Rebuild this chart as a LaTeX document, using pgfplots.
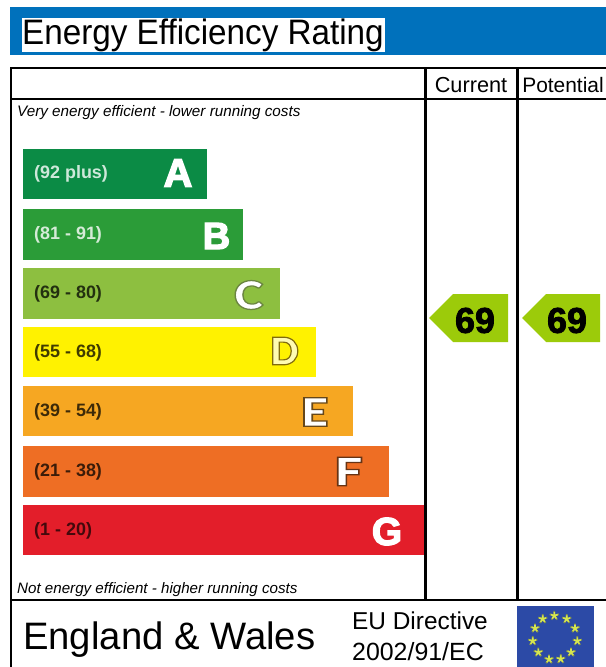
\documentclass[border=0pt]{standalone}
\usepackage{fontspec}
\setmainfont{Liberation Sans}
\newfontface\heavyfont{Liberation Sans Bold}[FakeBold=3.5]
\newfontface\ringfont{Lato Black}[FakeBold=3.2]
\newfontface\numfont{Liberation Sans Bold}[FakeBold=2.2]
\usepackage{pgfplots}
\pgfplotsset{compat=1.18}
\definecolor{hdr}{HTML}{0071BC}
\definecolor{cA}{HTML}{0B8B45}
\definecolor{cB}{HTML}{2B9C38}
\definecolor{cC}{HTML}{8DBF40}
\definecolor{cD}{HTML}{FFF200}
\definecolor{cE}{HTML}{F6A722}
\definecolor{cF}{HTML}{EE6E24}
\definecolor{cG}{HTML}{E31E2A}
\definecolor{cArrow}{HTML}{9CCB0A}
\definecolor{flag}{HTML}{2C4AA6}
\definecolor{star}{HTML}{D6E650}
% white letter whose emboldening stroke is dark: #2 is the PDF stroke colour
\newcommand{\ringed}[3][white]{\textcolor{#1}{\special{pdf:code #2 RG}#3}}
\begin{document}
\begin{tikzpicture}[x=1bp,y=1bp]
\begin{axis}[
  at={(0,0)},anchor=south west,
  width=606bp,height=667bp,scale only axis,
  xmin=0,xmax=606,ymin=0,ymax=667,y dir=reverse,
  axis lines=none,clip=true,
  every axis plot/.append style={line join=miter},
]
% canvas
\addplot[fill=white,draw=none] coordinates {(0,0)(606,0)(606,667)(0,667)} -- cycle;
% header
\addplot[fill=hdr,draw=none] coordinates {(10,7)(606,7)(606,55)(10,55)} -- cycle;
\addplot[fill=white,draw=none] coordinates {(22,18)(385,18)(385,52)(22,52)} -- cycle;
% bars
\addplot[fill=cA,draw=none] coordinates {(23,149)(207,149)(207,199)(23,199)} -- cycle;
\addplot[fill=cB,draw=none] coordinates {(23,209)(243,209)(243,260)(23,260)} -- cycle;
\addplot[fill=cC,draw=none] coordinates {(23,268)(280,268)(280,319)(23,319)} -- cycle;
\addplot[fill=cD,draw=none] coordinates {(23,327)(316,327)(316,377)(23,377)} -- cycle;
\addplot[fill=cE,draw=none] coordinates {(23,386)(353,386)(353,436)(23,436)} -- cycle;
\addplot[fill=cF,draw=none] coordinates {(23,446)(389,446)(389,497)(23,497)} -- cycle;
\addplot[fill=cG,draw=none] coordinates {(23,505)(424,505)(424,555)(23,555)} -- cycle;
% arrows
\addplot[fill=cArrow,draw=none] coordinates {(429,318)(453,294)(508,294)(508,342)(453,342)} -- cycle;
\addplot[fill=cArrow,draw=none] coordinates {(522,318)(546,294)(600,294)(600,342)(546,342)} -- cycle;
% frame
\addplot[black,line width=2.4bp] coordinates {(11,667)(11,68)(606,68)};
\addplot[black,line width=2.4bp] coordinates {(11,99)(606,99)};
\addplot[black,line width=2.4bp] coordinates {(425.5,68)(425.5,600)};
\addplot[black,line width=2.4bp] coordinates {(517.5,68)(517.5,600)};
\addplot[black,line width=2.4bp] coordinates {(11,600)(606,600)};
% flag
\addplot[fill=flag,draw=none] coordinates {(517,606)(594,606)(594,667)(517,667)} -- cycle;
\addplot[only marks,mark=star,mark size=4.8bp,mark options={solid,fill=star,draw=star!70!black!80!flag,line width=1.8bp},draw=none] coordinates {
(554.3,615.7)(566.7,619)(575,628.3)(577.3,641)(571,652.3)(560.7,659)(549,659.3)(538.3,652.3)(532.7,641)(535,628.3)(542.7,619)};
\addplot[only marks,mark=star,mark size=3.6bp,mark options={solid,draw=star,fill=star,line width=1.6bp},draw=none] coordinates {
(554.3,615.7)(566.7,619)(575,628.3)(577.3,641)(571,652.3)(560.7,659)(549,659.3)(538.3,652.3)(532.7,641)(535,628.3)(542.7,619)};
% text
\node[anchor=west,inner sep=0,xscale=0.94,font=\fontsize{35.5}{35.5}\selectfont] at (axis cs:22,35.5) {Energy Efficiency Rating};
\node[anchor=center,inner sep=0,font=\fontsize{21.8}{21.8}\selectfont] at (axis cs:471,85) {Current};
\node[anchor=center,inner sep=0,font=\fontsize{21}{21}\selectfont] at (axis cs:563,85) {Potential};
\node[anchor=west,inner sep=0,font=\itshape\fontsize{15.3}{15.3}\selectfont] at (axis cs:17,112.5) {Very energy efficient - lower running costs};
\node[anchor=west,inner sep=0,font=\itshape\fontsize{15.2}{15.2}\selectfont] at (axis cs:17,589.5) {Not energy efficient - higher running costs};
\node[anchor=west,inner sep=0,font=\bfseries\fontsize{18}{18}\selectfont,text=white!80!cA] at (axis cs:34,173.5) {(92 plus)};
\node[anchor=west,inner sep=0,font=\bfseries\fontsize{18}{18}\selectfont,text=white!80!cB] at (axis cs:34,234.5) {(81 - 91)};
\node[anchor=west,inner sep=0,font=\bfseries\fontsize{18}{18}\selectfont,text=black!75!cC] at (axis cs:34,293.5) {(69 - 80)};
\node[anchor=west,inner sep=0,font=\bfseries\fontsize{18}{18}\selectfont,text=black!75!cD] at (axis cs:34,352.5) {(55 - 68)};
\node[anchor=west,inner sep=0,font=\bfseries\fontsize{18}{18}\selectfont,text=black!75!cE] at (axis cs:34,411.5) {(39 - 54)};
\node[anchor=west,inner sep=0,font=\bfseries\fontsize{18}{18}\selectfont,text=black!75!cF] at (axis cs:34,471.5) {(21 - 38)};
\node[anchor=west,inner sep=0,font=\bfseries\fontsize{18}{18}\selectfont,text=black!70!cG] at (axis cs:34,530.5) {(1 - 20)};
\node[inner sep=0,font=\heavyfont\fontsize{40}{40}\selectfont,text=white] at (axis cs:178,173) {A};
\node[inner sep=0,font=\heavyfont\fontsize{38}{38}\selectfont,text=white] at (axis cs:216.5,236) {B};
\node[inner sep=0,xscale=1.15,font=\ringfont\fontsize{39}{39}\selectfont] at (axis cs:248.5,295) {\ringed{0.42 0.52 0.25}{C}};
\node[inner sep=0,font=\ringfont\fontsize{38}{38}\selectfont] at (axis cs:284.5,351) {\ringed[white!70!cD]{0.5 0.42 0.05}{D}};
\node[inner sep=0,xscale=1.25,font=\ringfont\fontsize{39}{39}\selectfont] at (axis cs:314.5,412) {\ringed{0.4 0.28 0.1}{E}};
\node[inner sep=0,xscale=1.3,font=\ringfont\fontsize{39}{39}\selectfont] at (axis cs:348.5,471.5) {\ringed{0.4 0.2 0.08}{F}};
\node[inner sep=0,font=\heavyfont\fontsize{39}{39}\selectfont,text=white] at (axis cs:387,531.5) {G};
\node[inner sep=0,font=\numfont\fontsize{36}{36}\selectfont,text=black] at (axis cs:475,320.5) {69};
\node[inner sep=0,font=\numfont\fontsize{36}{36}\selectfont,text=black] at (axis cs:567,320.5) {69};
\node[anchor=west,inner sep=0,font=\fontsize{38.4}{38.4}\selectfont] at (axis cs:23,640) {England \& Wales};
\node[anchor=west,inner sep=0,font=\fontsize{24.5}{24.5}\selectfont] at (axis cs:352,621) {EU Directive};
\node[anchor=west,inner sep=0,font=\fontsize{25}{25}\selectfont] at (axis cs:352,651.5) {2002/91/EC};
\end{axis}
\end{tikzpicture}
\end{document}
